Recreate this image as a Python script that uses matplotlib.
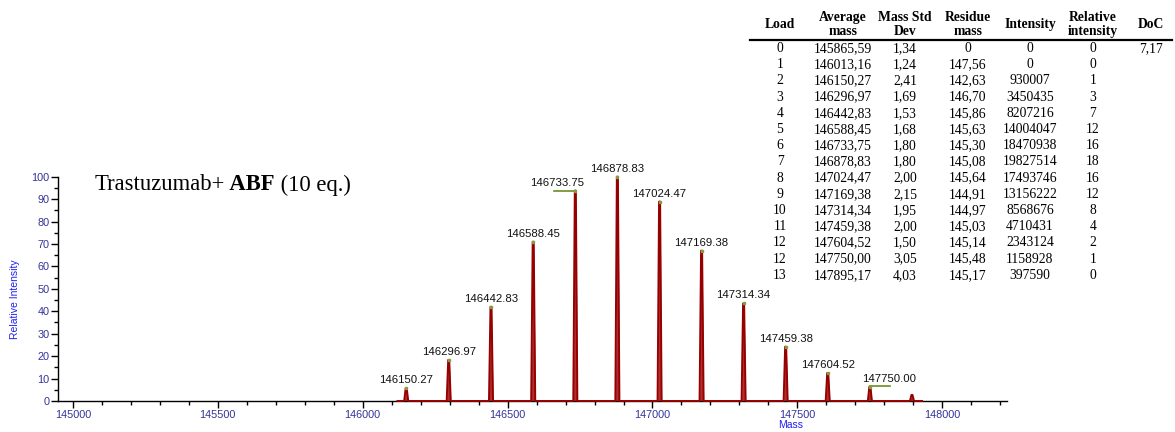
import matplotlib
matplotlib.use("Agg")
import matplotlib.pyplot as plt
from matplotlib.lines import Line2D

# ---------------- data ----------------
peak_masses = [146150.27, 146296.97, 146442.83, 146588.45, 146733.75, 146878.83,
               147024.47, 147169.38, 147314.34, 147459.38, 147604.52, 147750.00,
               147895.17]
peak_heights = [5.7, 18.3, 42.0, 71.0, 93.8, 100.0, 88.9, 67.0, 43.5, 24.2, 12.5,
                6.4, 2.7]
peak_labeled = [True] * 12 + [False]

tbl_load = ["0", "1", "2", "3", "4", "5", "6", "7", "8", "9", "10", "11", "12", "12", "13"]
tbl_avg_mass = ["145865,59", "146013,16", "146150,27", "146296,97", "146442,83",
                "146588,45", "146733,75", "146878,83", "147024,47", "147169,38",
                "147314,34", "147459,38", "147604,52", "147750,00", "147895,17"]
tbl_std = ["1,34", "1,24", "2,41", "1,69", "1,53", "1,68", "1,80", "1,80", "2,00",
           "2,15", "1,95", "2,00", "1,50", "3,05", "4,03"]
tbl_residue = ["0", "147,56", "142,63", "146,70", "145,86", "145,63", "145,30",
               "145,08", "145,64", "144,91", "144,97", "145,03", "145,14", "145,48",
               "145,17"]
tbl_intensity = ["0", "0", "930007", "3450435", "8207216", "14004047", "18470938",
                 "19827514", "17493746", "13156222", "8568676", "4710431", "2343124",
                 "1158928", "397590"]
tbl_rel = ["0", "0", "1", "3", "7", "12", "16", "18", "16", "12", "8", "4", "2", "1", "0"]
tbl_doc = ["7,17"] + [""] * 14
tbl_headers = ["Load", "Average\nmass", "Mass Std\nDev", "Residue\nmass", "Intensity",
               "Relative\nintensity", "DoC"]

# ---------------- figure ----------------
W, H = 1175, 432
fig = plt.figure(figsize=(W / 100, H / 100), dpi=100)

def fx(x):
    return x / W

def fy(y):
    return 1 - y / H

ax = fig.add_axes([fx(58.3), fy(401), fx(1006.7) - fx(58.3), fy(176.7) - fy(401)])
ax.set_xlim(144950, 148222)
ax.set_ylim(0, 100)

# spectrum polyline built from the peak list
peak_col = "#960000"
xs, ys = [146120], [0]
for m, h in zip(peak_masses, peak_heights):
    xs += [m - 7, m - 1.8, m + 1.8, m + 7]
    ys += [0, h, h, 0]
xs.append(147930)
ys.append(0)
ax.fill_between(xs, ys, 0, color="#b03030", lw=0, zorder=2)
ax.plot(xs, ys, color=peak_col, lw=1.4, zorder=3, clip_on=False)

# peak labels
lab_font = dict(family="Liberation Sans", size=8.2, color="#111111")
px_per_da = (1006.7 - 58.3) / (148222 - 144950)
for m, h, lab in zip(peak_masses, peak_heights, peak_labeled):
    if not lab:
        continue
    dx = 0
    if abs(m - 146733.75) < 0.01:
        dx = -18
        ax.plot([m - 21 / px_per_da, m], [h, h], color="#6b8e23", lw=1.2, zorder=4)
    elif abs(m - 147750.00) < 0.01:
        dx = 19
        ax.plot([m, m + 20 / px_per_da], [h + 0.4, h + 0.4], color="#6b8e23", lw=1.2, zorder=4)
    ax.annotate(f"{m:.2f}", xy=(m, h), xytext=(dx * 0.72, 2.2), textcoords="offset points",
                ha="center", va="bottom", annotation_clip=False, **lab_font)
    ax.plot([m], [h], marker="s", ms=1.5, color="#8a9a40", zorder=5, clip_on=False)

# axes styling
for s in ["top", "right"]:
    ax.spines[s].set_visible(False)
for s in ["left", "bottom"]:
    ax.spines[s].set_color("black")
    ax.spines[s].set_linewidth(1.0)
ax.set_xticks([145000, 145500, 146000, 146500, 147000, 147500, 148000])
ax.set_xticks([x for x in range(145000, 148300, 100)], minor=True)
ax.set_yticks(range(0, 101, 10))
ax.set_yticks(range(0, 101, 5), minor=True)
tick_col = "#333399"
ax.tick_params(axis="both", which="major", length=5, width=1, color="black",
               labelsize=7.8, labelcolor=tick_col, pad=1.5)
ax.tick_params(axis="both", which="minor", length=3, width=1, color="black")
for t in ax.get_xticklabels() + ax.get_yticklabels():
    t.set_family("Liberation Sans")

fig.text(fx(15), fy(299), "Relative Intensity", rotation=90, ha="center", va="center",
         family="Liberation Sans", size=7.5, color="#2020ee")
fig.text(fx(791), fy(425.5), "Mass", ha="center", va="center",
         family="Liberation Sans", size=7.5, color="#2020ee")

# title in three runs (regular / bold / regular)
renderer = fig.canvas.get_renderer()
title_font = dict(family="Liberation Serif", size=16.3, color="black", va="baseline", ha="left")
x0 = fx(95)
for part, wt in [("Trastuzumab+", "normal"), (" ABF", "bold"), (" (10 eq.)", "normal")]:
    t = fig.text(x0, fy(190.5), part, weight=wt, **title_font)
    bb = t.get_window_extent(renderer)
    x0 = bb.x1 / W

# table
col_x = [780, 843, 905, 968, 1030, 1093, 1151]
tfont = dict(family="Liberation Serif", size=9.8, color="black")
for cx, hdr in zip(col_x, tbl_headers):
    fig.text(fx(cx), fy(24.5), hdr, ha="center", va="center", weight="bold",
             linespacing=1.12, **tfont)
fig.add_artist(Line2D([fx(750), fx(1172)], [fy(39.5), fy(39.5)], color="black", lw=1.6))
row0, dy = 48.5, 16.2
cols = [tbl_load, tbl_avg_mass, tbl_std, tbl_residue, tbl_intensity, tbl_rel, tbl_doc]
for cx, col in zip(col_x, cols):
    for i, v in enumerate(col):
        if v:
            fig.text(fx(cx), fy(row0 + i * dy), v, ha="center", va="center", **tfont)

fig.savefig("out.png", dpi=100)
